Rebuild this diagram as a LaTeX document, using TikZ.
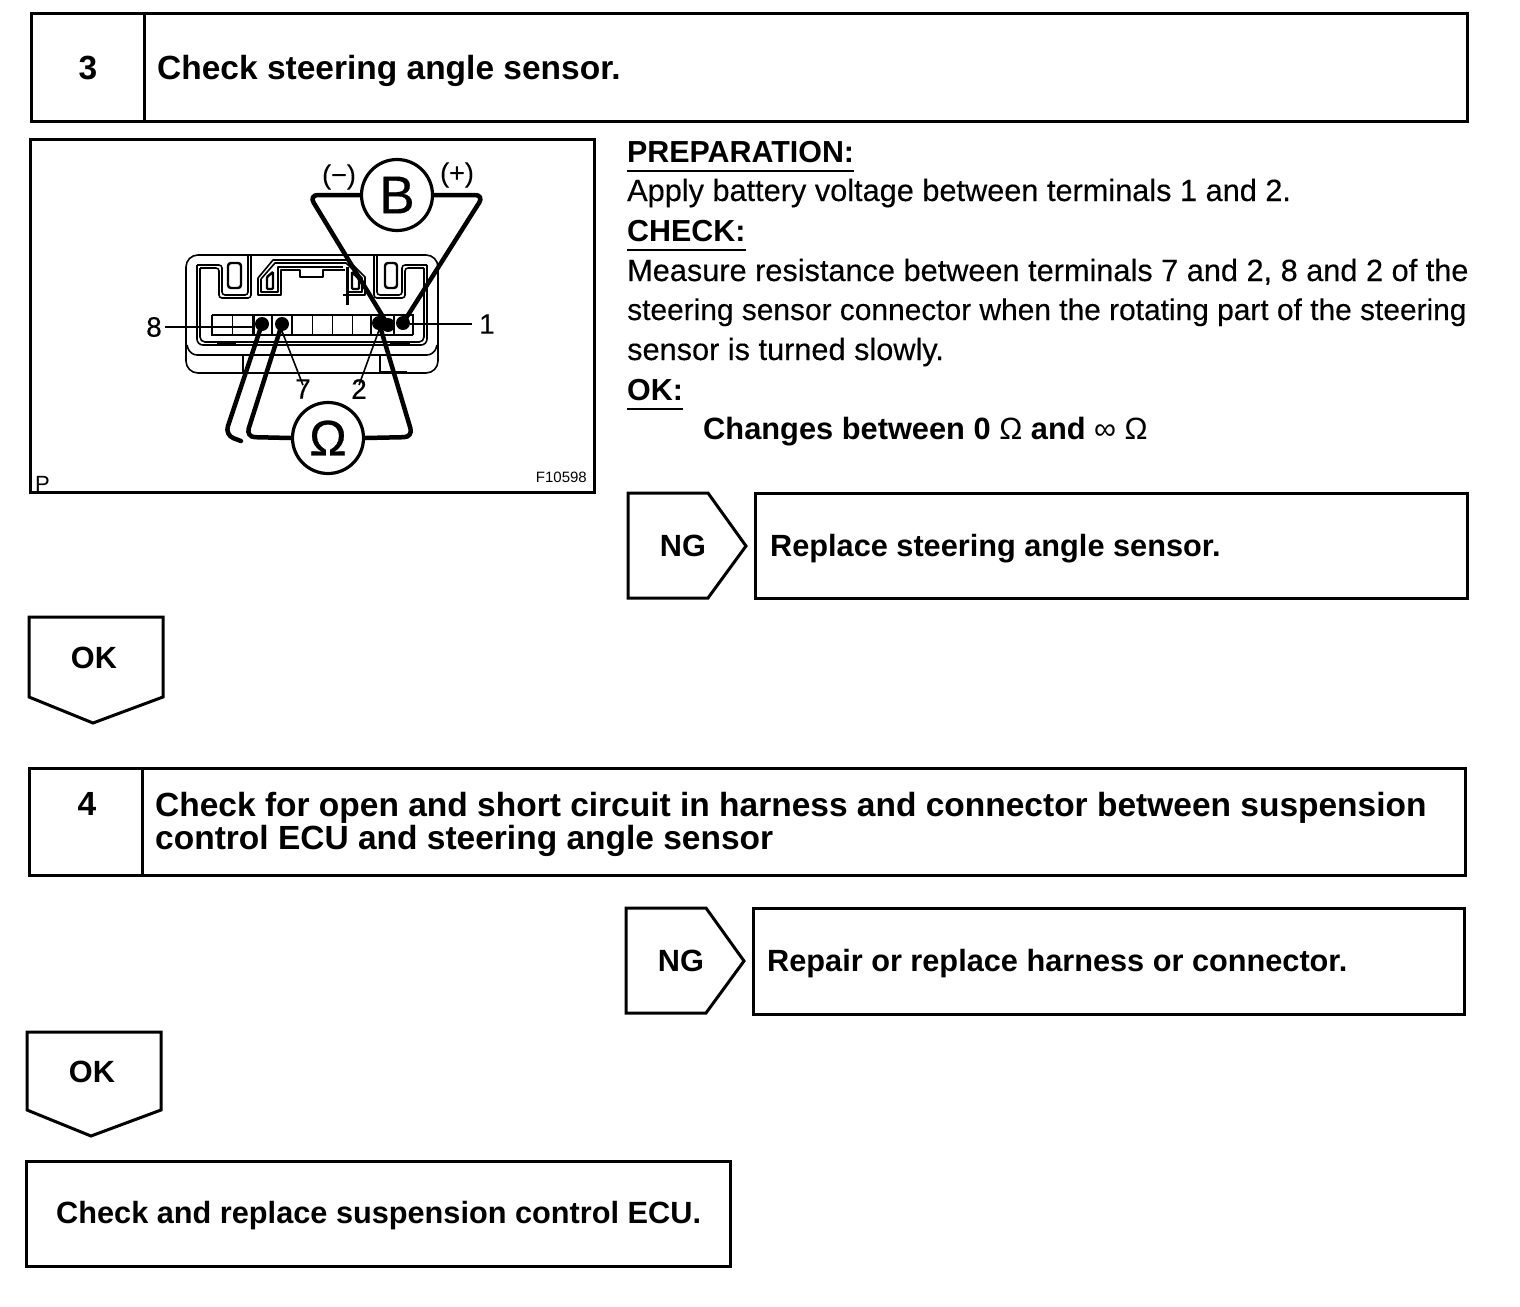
\documentclass[tikz,border=0pt]{standalone}
\usepackage{fontspec}
\setmainfont{Liberation Sans}
\newfontface\fakeb[FakeBold=0.6]{Liberation Sans}
\newfontface\fakeh[FakeBold=0.25]{Liberation Sans}
\tikzset{
  x=1pt,y=-1pt,
  frame/.style={draw=black,line width=3pt,line join=miter},
  boxn/.style={frame,rectangle,inner sep=0pt,outer sep=0pt,anchor=north west},
  hd/.style={font=\bfseries\fontsize{33.5}{33.5}\selectfont,inner sep=0pt,anchor=base west},
  bd/.style={font=\fakeh\fontsize{30.7}{30.7}\selectfont,inner sep=0pt,anchor=base west},
  bdh/.style={font=\bfseries\fontsize{30.4}{30.4}\selectfont,inner sep=0pt,anchor=base west},
  act/.style={font=\bfseries\fontsize{30.7}{30.7}\selectfont,inner sep=0pt,anchor=base west},
  num/.style={font=\fakeh\fontsize{28}{28}\selectfont,inner sep=0pt},
  wire/.style={draw=black,line width=4.5pt,rounded corners=9pt,line cap=round},
  thin/.style={draw=black,line width=1.6pt,line join=round},
  lead/.style={draw=black,line width=1.6pt},
  dotn/.style={circle,fill=black,inner sep=0pt,minimum size=14pt},
  meter/.style={circle,draw=black,line width=3.2pt,minimum size=71pt,inner sep=0pt,fill=white},
  ul/.style={draw=black,line width=2pt},
}
\begin{document}
\begin{tikzpicture}
\useasboundingbox (0,0) rectangle (1520,1306);
\fill[white] (0,0) rectangle (1520,1306);

% step 3 header
\node[boxn,minimum width=1436pt,minimum height=107pt] (b3) at (31,14) {};
\coordinate (d3t) at (144,14); \coordinate (d3b) at (144,121);
\draw[frame] (d3t) -- (d3b);
\node[hd,anchor=center] (n3) at (88,68) {3};
\node[hd] (t3) at (157,79) {Check steering angle sensor.};

% picture frame
\node[boxn,minimum width=564pt,minimum height=353pt] (pic) at (30,139) {};
\node[font=\fontsize{22}{22}\selectfont,inner sep=0pt,anchor=base west] (pp) at (35,491) {P};
\node[font=\fontsize{15}{15}\selectfont,inner sep=0pt,anchor=base east] (fig) at (587,482) {F10598};

% connector body
\draw[thin,rounded corners=12pt] (186,255) rectangle (438,373);
\draw[thin,rounded corners=7pt] (187,345) -- (190,355) -- (434,355) -- (437,345);
\draw[thin,rounded corners=6pt] (197,265) -- (197,345) -- (427,345) -- (427,265);
\draw[thin,rounded corners=5pt] (200,268) -- (200,342) -- (424,342) -- (424,268);
% left lock
\draw[thin,rounded corners=3pt] (197,265) -- (222,265) -- (222,295) -- (248,295) -- (248,256);
\draw[thin,rounded corners=3pt] (200,268) -- (219,268) -- (219,298) -- (251,298) -- (251,256);
\draw[line width=2.4pt,rounded corners=3pt] (228,263) -- (228,288) -- (241,288) -- (241,263) -- cycle;
% right lock
\draw[thin,rounded corners=3pt] (427,265) -- (402,265) -- (402,295) -- (377,295) -- (377,256);
\draw[thin,rounded corners=3pt] (424,268) -- (405,268) -- (405,298) -- (374,298) -- (374,256);
\draw[line width=2.4pt,rounded corners=3pt] (385,263) -- (385,288) -- (397,288) -- (397,263) -- cycle;
% central latch
\draw[thin] (258,278) -- (273,260) -- (348,260) -- (365,277) -- (365,295) -- (343,295);
\draw[thin] (261,279) -- (275,263) -- (346,263) -- (362,278) -- (362,292) -- (347,292);
\draw[thin] (258,278) -- (258,295) -- (281,295) -- (281,270) -- (300,270) -- (300,277) -- (323,277) -- (323,270) -- (345,270);
\draw[thin] (261,279) -- (261,292) -- (278,292) -- (278,267) -- (343,267);
\draw[line width=2.4pt,rounded corners=1pt] (267,277) -- (273,272) -- (273,289) -- (267,289) -- cycle;
\draw[line width=2.4pt,rounded corners=1pt] (352,272) -- (359,279) -- (359,289) -- (352,289) -- cycle;
\draw[line width=3pt] (347,267) -- (347,305);
\draw[line width=3pt] (217,342) -- (236,342);
\draw[line width=3pt] (390,342) -- (410,342);
\draw[thin] (243,355) -- (243,373);
\draw[thin] (380,355) -- (380,372) -- (407,372);

% terminal strip
\fill[white] (212,315) rectangle (413,335);
\draw[line width=2.4pt] (212,315) -- (413,315) -- (413,335);
\draw[line width=1.6pt] (212,315) -- (212,335) -- (413,335);
\foreach \cx in {232.5,312.5,332.5,352.5}
  \draw[line width=1.2pt] (\cx,315) -- (\cx,335);
\foreach \cx in {253.5,272,292,371,394}
  \draw[line width=2.2pt] (\cx,315) -- (\cx,335);

% leads and numbers
\node[num,anchor=center] (l8) at (154,327) {8};
\node[num,anchor=center] (l1) at (487,324) {1};
\node[num,anchor=center] (l7) at (303,389) {7};
\node[num,anchor=center] (l2) at (359,389) {2};
\node[dotn] (t8) at (262,324) {};
\node[dotn] (t7) at (282,324) {};
\node[dotn] (t2) at (379,323) {};
\node[dotn] (tm) at (388,325) {};
\node[dotn] (t1) at (403,323) {};
\coordinate (c8) at (t8.west |- l8.east);
\coordinate (c1) at (l1.west -| t1.east);
\draw[lead] (l8.east) ++(3,0) -- (c8);
\draw[lead] (c1) -- ([xshift=-7pt]l1.west);
\draw[lead] (t7.south) -- ([yshift=-6pt]l7.north);
\draw[lead] (t2.south) -- ([yshift=-6pt]l2.north);

% meters
\node[meter] (B) at (397,195) {\fontsize{53}{53}\selectfont\fakeb B};
\node[meter] (Om) at (328,438) {\fontsize{50}{50}\selectfont\fakeb Ω};
\node[font=\fakeh\fontsize{27}{27}\selectfont,inner sep=0pt] (minus) at (339,177) {(−)};
\node[font=\fakeh\fontsize{27}{27}\selectfont,inner sep=0pt] (plus) at (457,175) {(+)};
\coordinate (wBl) at (309,195);
\coordinate (wBr) at (484,195);
\coordinate (wOr) at (413,437);
\coordinate (wOl) at (246,437);
\coordinate (wOo1) at (225,435);
\coordinate (wOo2) at (241,441);
\draw[wire] (B.west) -- (wBl) -- (tm.center);
\draw[wire] (B.east) -- (wBr) -- (t1.center);
\draw[wire] (Om.east) -- (wOr) -- (t2.center);
\draw[wire] (Om.west) -- (wOl) -- (t7.center);
\draw[wire] (wOo2) -- (wOo1) -- (t8.center);

% instructions
\node[bdh] (prep) at (627,162) {PREPARATION:};
\node[bd] (l1a) at (627,201) {Apply battery voltage between terminals 1 and 2.};
\node[bdh] (chk) at (627,241) {CHECK:};
\node[bd] (l2a) at (627,281) {Measure resistance between terminals 7 and 2, 8 and 2 of the};
\node[bd,font=\fakeh\fontsize{29.9}{29.9}\selectfont] (l2b) at (627,320) {steering sensor connector when the rotating part of the steering};
\node[bd] (l2c) at (627,360) {sensor is turned slowly.};
\node[bdh] (okh) at (627,400) {OK:};
\node[bdh,font=\bfseries\fontsize{30.8}{30.8}\selectfont] (chg) at (703,439) {Changes between 0 {\mdseries Ω} and {\mdseries ∞ Ω}};
\draw[ul] (prep.base west) ++(0,9) coordinate (u1a) -- (u1a -| prep.east);
\draw[ul] (chk.base west) ++(0,9) coordinate (u2a) -- (u2a -| chk.east);
\draw[ul] (okh.base west) ++(0,9) coordinate (u3a) -- (u3a -| okh.east);

% NG 1
\draw[frame] (628,493) -- (708,493) -- (746,546) -- (708,598) -- (628,598) -- cycle;
\node[act,anchor=center] (ng1) at (683,546) {NG};
\node[boxn,minimum width=712pt,minimum height=105pt] (r1) at (755,493) {};
\node[act] (r1t) at (770,556) {Replace steering angle sensor.};

% OK 1
\draw[frame] (29,617) -- (163,617) -- (163,697) -- (93,723) -- (29,697) -- cycle;
\node[act,anchor=center] (ok1) at (94,658) {OK};

% step 4 header
\node[boxn,minimum width=1436pt,minimum height=107pt] (b4) at (29,768) {};
\coordinate (d4t) at (142,768); \coordinate (d4b) at (142,875);
\draw[frame] (d4t) -- (d4b);
\node[hd,anchor=center] (n4) at (87,804) {4};
\node[hd] (t4a) at (155,816) {Check for open and short circuit in harness and connector between suspension};
\node[hd] (t4b) at (155,849) {control ECU and steering angle sensor};

% NG 2
\draw[frame] (626,908) -- (706,908) -- (744,961) -- (706,1013) -- (626,1013) -- cycle;
\node[act,anchor=center] (ng2) at (681,961) {NG};
\node[boxn,minimum width=711pt,minimum height=106pt] (r2) at (753,908) {};
\node[act] (r2t) at (767,971) {Repair or replace harness or connector.};

% OK 2
\draw[frame] (27,1032) -- (161,1032) -- (161,1110) -- (91,1136) -- (27,1110) -- cycle;
\node[act,anchor=center] (ok2) at (92,1072) {OK};

% final
\node[boxn,minimum width=704pt,minimum height=105pt] (fin) at (26,1161) {};
\node[act] (fint) at (56,1223) {Check and replace suspension control ECU.};
\end{tikzpicture}
\end{document}
